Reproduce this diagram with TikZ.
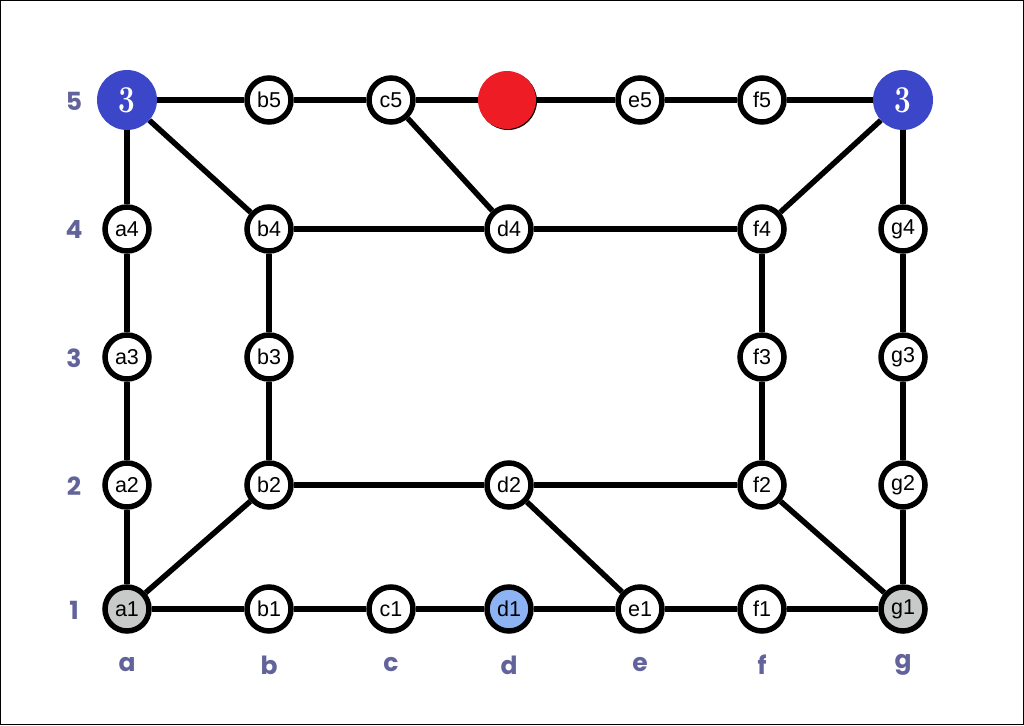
\documentclass[tikz,border=0pt]{standalone}
\usepackage{fontspec}
\setmainfont{Poppins}
\newfontfamily\numfont{Latin Modern Roman}
\newfontfamily\nodefont{Liberation Sans}
\definecolor{lblc}{HTML}{62639B}
\definecolor{bluen}{HTML}{3C46C8}
\definecolor{redn}{HTML}{EE1C25}
\definecolor{grayn}{HTML}{C8C9C9}
\definecolor{lbluen}{HTML}{8DB3F2}
\tikzset{
  v/.style={circle,draw=black,line width=5.5pt,fill=white,minimum size=44pt,inner sep=0pt,font=\nodefont\fontsize{21.5}{21.5}\selectfont},
  bigb/.style={circle,fill=bluen,minimum size=60pt,inner sep=0pt,text=white,font=\numfont\bfseries\upshape\fontsize{38}{38}\selectfont},
  bigr/.style={circle,fill=redn,minimum size=58pt,inner sep=0pt},
  e/.style={line width=5.5pt,black},
  lbl/.style={text=lblc,font=\bfseries\fontsize{25}{25}\selectfont}
}
\begin{document}
\begin{tikzpicture}[x=1pt,y=-1pt]
\useasboundingbox (0,0) rectangle (1024,725);
\draw[line width=1pt] (0.5,0.5) rectangle (1023.5,724.5);
% row/column labels
\node[lbl] (r5) at (74,101) {5};
\node[lbl] (r4) at (74,229) {4};
\node[lbl] (r3) at (74,358) {3};
\node[lbl] (r2) at (74,486) {2};
\node[lbl] (r1) at (74,610) {1};
\node[lbl] (ca) at (127,665) {a};
\node[lbl] (cb) at (269,665) {b};
\node[lbl] (cc) at (391,665) {c};
\node[lbl] (cd) at (509,665) {d};
\node[lbl] (ce) at (640,665) {e};
\node[lbl] (cf) at (762,665) {f};
\node[lbl] (cg) at (903,665) {g};
% nodes
\node[bigb] (a5) at (127,100) {\scalebox{0.78}[1]{3}};
\node[v] (b5) at (269,100) {b5};
\node[v] (c5) at (391,100) {c5};
\fill[black] (508,101) circle[radius=29pt];
\node[bigr] (d5) at (507,100) {};
\node[v] (e5) at (640,100) {e5};
\node[v] (f5) at (762,100) {f5};
\node[bigb] (g5) at (903,100) {\scalebox{0.78}[1]{3}};
\node[v] (a4) at (127,229) {a4};
\node[v] (b4) at (269,229) {b4};
\node[v] (d4) at (509,229) {d4};
\node[v] (f4) at (762,229) {f4};
\node[v] (g4) at (903,229) {g4};
\node[v] (a3) at (127,357) {a3};
\node[v] (b3) at (269,357) {b3};
\node[v] (f3) at (762,357) {f3};
\node[v] (g3) at (903,357) {g3};
\node[v] (a2) at (127,485) {a2};
\node[v] (b2) at (269,485) {b2};
\node[v] (d2) at (509,485) {d2};
\node[v] (f2) at (762,485) {f2};
\node[v] (g2) at (903,485) {g2};
\node[v,fill=grayn] (a1) at (127,609) {a1};
\node[v] (b1) at (269,609) {b1};
\node[v] (c1) at (391,609) {c1};
\node[v,fill=lbluen] (d1) at (509,609) {d1};
\node[v] (e1) at (640,609) {e1};
\node[v] (f1) at (762,609) {f1};
\node[v,fill=grayn] (g1) at (903,609) {g1};
% edges
\draw[e] (a5) -- (b5);
\draw[e] (b5) -- (c5);
\draw[e] (c5) -- (d5);
\draw[e] (d5) -- (e5);
\draw[e] (e5) -- (f5);
\draw[e] (f5) -- (g5);
\draw[e] (a5) -- (a4);
\draw[e] (a5) -- (b4);
\draw[e] (c5) -- (d4);
\draw[e] (g5) -- (f4);
\draw[e] (g5) -- (g4);
\draw[e] (b4) -- (d4);
\draw[e] (d4) -- (f4);
\draw[e] (a4) -- (a3);
\draw[e] (a3) -- (a2);
\draw[e] (a2) -- (a1);
\draw[e] (b4) -- (b3);
\draw[e] (b3) -- (b2);
\draw[e] (f4) -- (f3);
\draw[e] (f3) -- (f2);
\draw[e] (g4) -- (g3);
\draw[e] (g3) -- (g2);
\draw[e] (g2) -- (g1);
\draw[e] (b2) -- (d2);
\draw[e] (d2) -- (f2);
\draw[e] (a1) -- (b2);
\draw[e] (d2) -- (e1);
\draw[e] (f2) -- (g1);
\draw[e] (a1) -- (b1);
\draw[e] (b1) -- (c1);
\draw[e] (c1) -- (d1);
\draw[e] (d1) -- (e1);
\draw[e] (e1) -- (f1);
\draw[e] (f1) -- (g1);
\end{tikzpicture}
\end{document}
